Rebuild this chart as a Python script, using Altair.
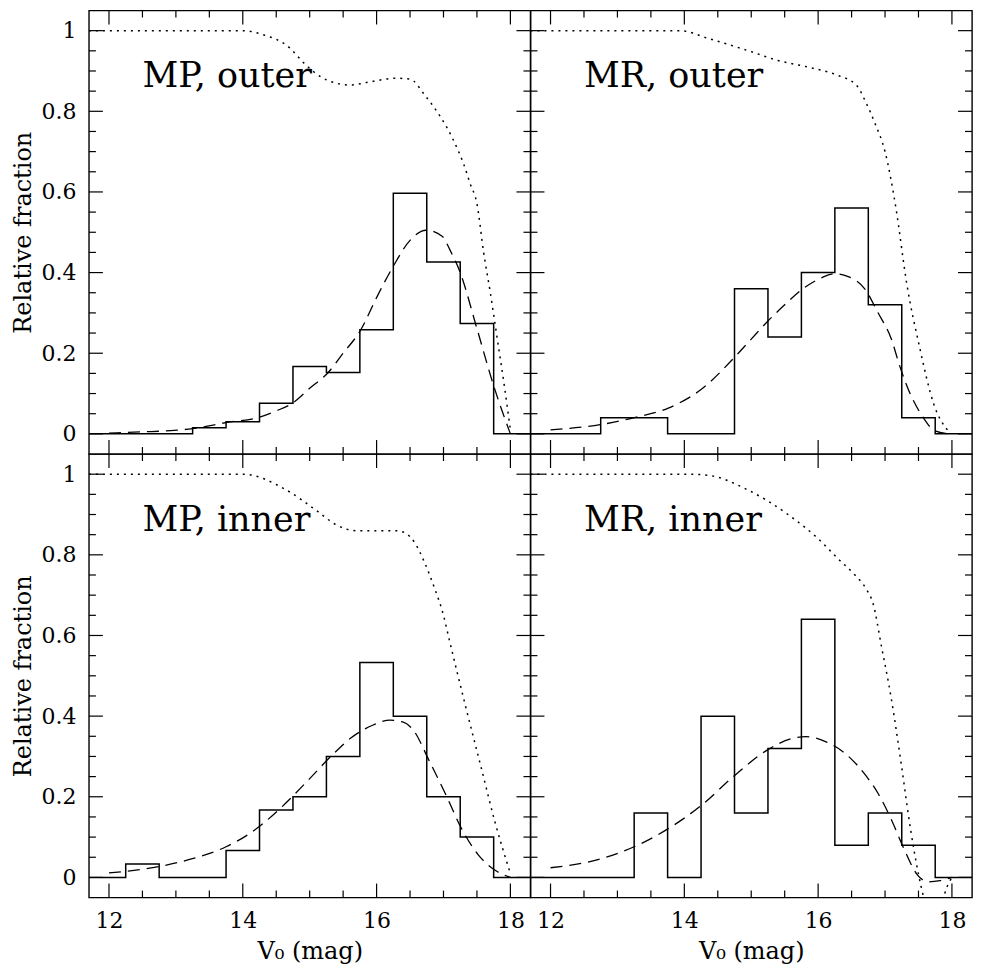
import altair as alt
import pandas as pd

# ---------------- data ----------------
# histogram step positions: bin centres of the 0.5 mag bins, with the axis ends
hist_x = [11.7, 12.0, 12.5, 13.0, 13.5, 14.0, 14.5, 15.0, 15.5, 16.0, 16.5, 17.0, 17.5, 18.0, 18.3]
hist_mp_outer = [0, 0, 0, 0, 0.015, 0.03, 0.076, 0.167, 0.152, 0.258, 0.597, 0.426, 0.274, 0, 0]
hist_mr_outer = [0, 0, 0, 0.04, 0.04, 0, 0, 0.36, 0.24, 0.40, 0.56, 0.32, 0.04, 0, 0]
hist_mp_inner = [0, 0, 0.033, 0, 0, 0.067, 0.167, 0.2, 0.3, 0.533, 0.4, 0.2, 0.1, 0, 0]
hist_mr_inner = [0, 0, 0, 0, 0.16, 0, 0.4, 0.16, 0.32, 0.64, 0.08, 0.16, 0.08, 0, 0]

# dashed fitted curves
fit_mp_outer_x = [12.0, 12.5, 12.92, 13.25, 13.75, 14.24, 14.5, 14.75, 15.0, 15.27, 15.5, 15.76, 16.0, 16.25, 16.5, 16.74, 16.98, 17.1, 17.25, 17.5, 17.76, 18.0]
fit_mp_outer_y = [0.002, 0.005, 0.008, 0.013, 0.028, 0.041, 0.057, 0.077, 0.113, 0.151, 0.2, 0.257, 0.338, 0.416, 0.48, 0.505, 0.49, 0.455, 0.40, 0.261, 0.114, 0.0]

fit_mr_outer_x = [12.0, 12.75, 13.27, 13.76, 14.25, 14.74, 15.0, 15.25, 15.5, 15.75, 16.0, 16.25, 16.45, 16.7, 16.89, 17.09, 17.23, 17.38, 17.57, 17.74, 17.96]
fit_mr_outer_y = [0.01, 0.023, 0.041, 0.064, 0.11, 0.188, 0.235, 0.28, 0.32, 0.357, 0.383, 0.397, 0.39, 0.359, 0.302, 0.237, 0.163, 0.098, 0.041, 0.008, 0.0]

fit_mp_inner_x = [12.0, 12.75, 13.26, 13.75, 14.14, 14.44, 14.75, 15.0, 15.34, 15.61, 15.95, 16.2, 16.4, 16.55, 16.79, 17.03, 17.27, 17.52, 17.76, 18.0]
fit_mp_inner_y = [0.011, 0.027, 0.047, 0.076, 0.113, 0.153, 0.202, 0.245, 0.304, 0.345, 0.378, 0.390, 0.385, 0.365, 0.288, 0.207, 0.121, 0.056, 0.019, 0.0]

fit_mr_inner_x = [12.0, 12.68, 13.25, 13.76, 14.25, 14.74, 15.25, 15.62, 15.82, 16.11, 16.4, 16.72, 16.89, 17.09, 17.28, 17.48, 17.65, 17.82, 18.0]
fit_mr_inner_y = [0.024, 0.043, 0.076, 0.121, 0.178, 0.251, 0.317, 0.345, 0.349, 0.337, 0.308, 0.251, 0.21, 0.145, 0.072, 0.007, -0.011, -0.008, 0.0]

# dotted completeness curves
comp_mp_outer_x = [11.7, 14.0, 14.3, 14.66, 14.95, 15.17, 15.39, 15.6, 15.9, 16.28, 16.5, 16.72, 16.9, 17.05, 17.2, 17.3, 17.4, 17.5, 17.6, 17.7, 17.8, 17.9, 18.0]
comp_mp_outer_y = [1.0, 1.0, 0.99, 0.963, 0.914, 0.885, 0.87, 0.865, 0.873, 0.882, 0.88, 0.84, 0.80, 0.76, 0.71, 0.67, 0.62, 0.571, 0.45, 0.35, 0.24, 0.13, 0.01]

comp_mr_outer_x = [11.7, 13.93, 14.37, 14.96, 15.4, 15.84, 16.28, 16.57, 16.72, 16.85, 17.0, 17.16, 17.33, 17.51, 17.73, 17.96]
comp_mr_outer_y = [1.0, 1.0, 0.98, 0.95, 0.926, 0.91, 0.89, 0.865, 0.82, 0.77, 0.70, 0.563, 0.367, 0.22, 0.073, 0.004]

comp_mp_inner_x = [11.7, 14.0, 14.66, 15.1, 15.39, 15.69, 16.28, 16.42, 16.57, 16.72, 16.86, 17.0, 17.08, 17.32, 17.57, 17.77, 17.99]
comp_mp_inner_y = [1.0, 1.0, 0.96, 0.91, 0.875, 0.86, 0.86, 0.855, 0.83, 0.78, 0.72, 0.65, 0.594, 0.431, 0.268, 0.137, 0.015]

comp_mr_inner_x = [11.7, 14.08, 14.37, 14.96, 15.55, 16.0, 16.3, 16.55, 16.72, 16.82, 16.95, 17.09, 17.24, 17.38, 17.51, 17.58, 17.7, 17.82, 17.88, 17.93, 18.0]
comp_mr_inner_y = [1.0, 1.0, 0.997, 0.96, 0.9, 0.84, 0.79, 0.75, 0.715, 0.68, 0.57, 0.447, 0.284, 0.121, 0.0, -0.05, -0.09, -0.075, -0.046, -0.022, 0.0]

panel_labels = ["MP, outer", "MR, outer", "MP, inner", "MR, inner"]
label_x = 12.5
label_y = 0.86

x_tick_major = [12, 14, 16, 18]
x_tick_minor = [12.5, 13.0, 13.5, 14.5, 15.0, 15.5, 16.5, 17.0, 17.5]
y_tick_major = [0, 0.2, 0.4, 0.6, 0.8, 1.0]
y_tick_minor = [0.05, 0.1, 0.15, 0.25, 0.3, 0.35, 0.45, 0.5, 0.55, 0.65, 0.7, 0.75, 0.85, 0.9, 0.95]

# ---------------- layout ----------------
XDOM = [11.7, 18.3]
YDOM = [-0.05, 1.05]
W, H = 442, 444
FONT = "DejaVu Serif"
MAJ, MIN = 14, 7


def xenc(show):
    sc = alt.Scale(domain=XDOM, nice=False, zero=False)
    if show:
        ax = alt.Axis(values=x_tick_major, ticks=False, domain=False, grid=False,
                      labelPadding=13, title="V₀ (mag)", titlePadding=8)
        return alt.X("x:Q", scale=sc, axis=ax)
    return alt.X("x:Q", scale=sc, axis=None)


def yenc(show):
    sc = alt.Scale(domain=YDOM, nice=False, zero=False)
    if show:
        ax = alt.Axis(values=y_tick_major, format="~g", ticks=False, domain=False, grid=False,
                      labelPadding=13, title="Relative fraction", titlePadding=5)
        return alt.Y("y:Q", scale=sc, axis=ax)
    return alt.Y("y:Q", scale=sc, axis=None)


def panel(label, hist, fx, fy, cx, cy, showx, showy):
    X = xenc(showx)
    Y = yenc(showy)
    hist_df = pd.DataFrame({"x": hist_x, "y": hist})
    fit_df = pd.DataFrame({"x": fx, "y": fy})
    comp_df = pd.DataFrame({"x": cx, "y": cy})
    lab_df = pd.DataFrame({"x": [label_x], "y": [label_y], "label": [label]})

    layers = [
        alt.Chart(hist_df).mark_line(interpolate="step", clip=True, color="black", strokeWidth=1.5)
        .encode(x=X, y=Y),
        alt.Chart(fit_df).mark_line(interpolate="monotone", clip=True, color="black",
                                    strokeWidth=1.3, strokeDash=[12, 7])
        .encode(x=X, y=Y),
        alt.Chart(comp_df).mark_line(interpolate="monotone", clip=True, color="black",
                                     strokeWidth=1.5, strokeDash=[2, 5])
        .encode(x=X, y=Y),
        alt.Chart(lab_df).mark_text(align="left", baseline="alphabetic", font=FONT,
                                    fontSize=35, color="black")
        .encode(x=X, y=Y, text="label:N"),
    ]
    for vals, L in ((x_tick_major, MAJ), (x_tick_minor, MIN)):
        df = pd.DataFrame({"x": vals})
        base = alt.Chart(df).mark_rule(color="black", strokeWidth=1.2)
        layers.append(base.encode(x=X, y=alt.value(H), y2=alt.value(H - L)))
        layers.append(base.encode(x=X, y=alt.value(0), y2=alt.value(L)))
    for vals, L in ((y_tick_major, MAJ), (y_tick_minor, MIN)):
        df = pd.DataFrame({"y": vals})
        base = alt.Chart(df).mark_rule(color="black", strokeWidth=1.2)
        layers.append(base.encode(y=Y, x=alt.value(0), x2=alt.value(L)))
        layers.append(base.encode(y=Y, x=alt.value(W), x2=alt.value(W - L)))
    return alt.layer(*layers).properties(width=W, height=H)


tl = panel(panel_labels[0], hist_mp_outer, fit_mp_outer_x, fit_mp_outer_y,
           comp_mp_outer_x, comp_mp_outer_y, False, True)
tr = panel(panel_labels[1], hist_mr_outer, fit_mr_outer_x, fit_mr_outer_y,
           comp_mr_outer_x, comp_mr_outer_y, False, False)
bl = panel(panel_labels[2], hist_mp_inner, fit_mp_inner_x, fit_mp_inner_y,
           comp_mp_inner_x, comp_mp_inner_y, True, True)
br = panel(panel_labels[3], hist_mr_inner, fit_mr_inner_x, fit_mr_inner_y,
           comp_mr_inner_x, comp_mr_inner_y, True, False)

chart = alt.concat(
    tl, tr, bl, br, columns=2, spacing=0, bounds="flush",
).properties(
    padding={"left": 3, "top": 0, "right": 0, "bottom": 0}
).configure_view(
    stroke="black", strokeWidth=1.4
).configure_axis(
    labelFont=FONT, labelFontSize=22, labelColor="black",
    titleFont=FONT, titleFontSize=24, titleColor="black", titleFontWeight="normal",
)

chart.save("out.html", embed_options={"renderer": "svg", "actions": False})
